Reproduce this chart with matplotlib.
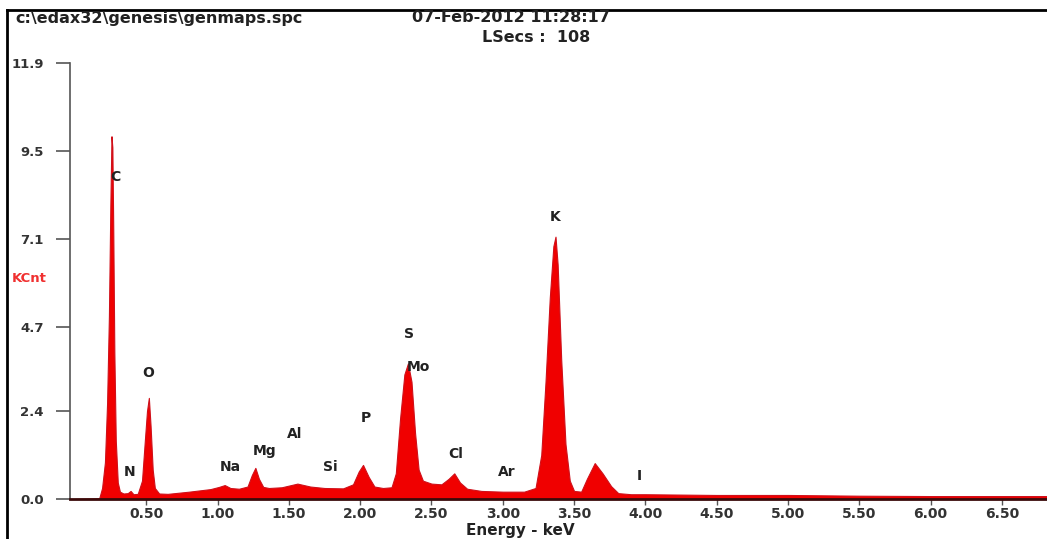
import matplotlib
matplotlib.use("Agg")
import matplotlib.pyplot as plt
from matplotlib.lines import Line2D

# ---- data ----
energy_kev = [0.00, 0.17, 0.19, 0.21, 0.225, 0.238, 0.248, 0.256, 0.262, 0.268, 0.276, 0.286, 0.30, 0.315,
              0.34, 0.37, 0.39, 0.41, 0.44, 0.47, 0.49, 0.505, 0.518, 0.53, 0.545, 0.56, 0.59,
              0.65, 0.80, 0.95, 1.01, 1.05, 1.09, 1.15, 1.21, 1.24, 1.265, 1.29, 1.32, 1.36,
              1.45, 1.56, 1.65, 1.75, 1.88, 1.95, 1.99, 2.02, 2.06, 2.10, 2.16, 2.22, 2.25,
              2.28, 2.31, 2.335, 2.36, 2.385, 2.41, 2.44, 2.50, 2.57, 2.62, 2.66, 2.70, 2.75,
              2.85, 3.00, 3.15, 3.23, 3.27, 3.30, 3.33, 3.355, 3.37, 3.385, 3.41, 3.44, 3.47,
              3.50, 3.55, 3.59, 3.645, 3.70, 3.76, 3.81, 3.90, 4.00, 4.50, 5.00, 5.50, 6.00,
              6.50, 6.82]
counts_kcnt = [0.0, 0.02, 0.3, 1.0, 2.6, 5.0, 8.0, 9.9, 9.6, 7.5, 4.0, 1.6, 0.45, 0.2,
               0.15, 0.16, 0.22, 0.13, 0.14, 0.5, 1.6, 2.4, 2.76, 2.0, 0.8, 0.3, 0.15,
               0.14, 0.2, 0.27, 0.33, 0.38, 0.3, 0.28, 0.34, 0.65, 0.85, 0.55, 0.33, 0.3,
               0.32, 0.42, 0.34, 0.3, 0.29, 0.4, 0.75, 0.93, 0.6, 0.34, 0.3, 0.32, 0.7,
               2.2, 3.4, 3.7, 3.2, 1.8, 0.8, 0.5, 0.42, 0.4, 0.55, 0.7, 0.45, 0.28,
               0.22, 0.2, 0.2, 0.3, 1.2, 3.2, 5.5, 6.9, 7.16, 6.4, 3.8, 1.5, 0.5,
               0.22, 0.2, 0.55, 0.98, 0.7, 0.35, 0.16, 0.13, 0.13, 0.11, 0.11, 0.09, 0.08,
               0.08, 0.08]

y_ticks = [0.0, 2.4, 4.7, 7.1, 9.5, 11.9]
y_tick_labels = ["0.0", "2.4", "4.7", "7.1", "9.5", "11.9"]
x_ticks = [0.5, 1.0, 1.5, 2.0, 2.5, 3.0, 3.5, 4.0, 4.5, 5.0, 5.5, 6.0, 6.5]
x_tick_labels = ["0.50", "1.00", "1.50", "2.00", "2.50", "3.00", "3.50", "4.00",
                 "4.50", "5.00", "5.50", "6.00", "6.50"]

element_labels = ["C", "N", "O", "Na", "Mg", "Al", "Si", "P", "S", "Mo", "Cl", "Ar", "K", "I"]
label_x = [0.28, 0.38, 0.51, 1.09, 1.33, 1.54, 1.79, 2.04, 2.34, 2.41, 2.67, 3.03, 3.37, 3.96]
label_y = [8.8, 0.74, 3.45, 0.87, 1.31, 1.78, 0.87, 2.2, 4.5, 3.6, 1.23, 0.74, 7.7, 0.63]

header_path = "c:\\edax32\\genesis\\genmaps.spc"
header_date = "07-Feb-2012 11:28:17"
header_lsecs = "LSecs :  108"

W, H = 1047, 539
fig = plt.figure(figsize=(W / 100, H / 100), dpi=100)
fig.patch.set_facecolor("white")

ax = fig.add_axes([70 / W, (H - 499) / H, (W - 70) / W, 436 / H])
ax.set_xlim(-0.035, 6.817)
ax.set_ylim(0, 11.9)

ax.fill_between(energy_kev, counts_kcnt, 0, facecolor="#f00000", edgecolor="#d0101a",
                linewidth=0.8, zorder=2)

for s in ["top", "right"]:
    ax.spines[s].set_visible(False)
ax.spines["left"].set_color("#555555")
ax.spines["left"].set_linewidth(1.2)
ax.spines["bottom"].set_color("#3a0a0a")
ax.spines["bottom"].set_linewidth(2.0)
ax.spines["bottom"].set_zorder(3)

fnt = dict(family="DejaVu Sans", weight="bold")
ax.set_yticks(y_ticks)
ax.set_yticklabels(y_tick_labels, fontsize=9.5, color="#333333", **fnt)
ax.set_xticks(x_ticks)
ax.set_xticklabels(x_tick_labels, fontsize=10, color="#333333", **fnt)
ax.tick_params(axis="y", direction="out", length=10, width=1.2, color="#555555", pad=9)
ax.tick_params(axis="x", direction="out", length=4, width=1.0, color="#555555", pad=2)

for t, x, y in zip(element_labels, label_x, label_y):
    ax.text(x, y, t, ha="center", va="center", fontsize=10, color="#222222", zorder=4, **fnt)

fig.text(15 / W, 1 - 18 / H, header_path, ha="left", va="center", fontsize=11.5,
         color="#222222", **fnt)
fig.text(610 / W, 1 - 18 / H, header_date, ha="right", va="center", fontsize=11.5,
         color="#222222", **fnt)
fig.text(590 / W, 1 - 37 / H, header_lsecs, ha="right", va="center", fontsize=11.5,
         color="#222222", **fnt)
fig.text(12 / W, 1 - 279 / H, "KCnt", ha="left", va="center", fontsize=9.5,
         color="#f03030", **fnt)
fig.text(520 / W, 1 - 531 / H, "Energy - keV", ha="center", va="center", fontsize=11,
         color="#222222", **fnt)

fig.add_artist(Line2D([7 / W, 1], [1 - 10 / H, 1 - 10 / H], transform=fig.transFigure,
                      color="black", linewidth=2))
fig.add_artist(Line2D([7 / W, 7 / W], [0, 1 - 10 / H], transform=fig.transFigure,
                      color="black", linewidth=2))

fig.savefig("out.png", dpi=100)
